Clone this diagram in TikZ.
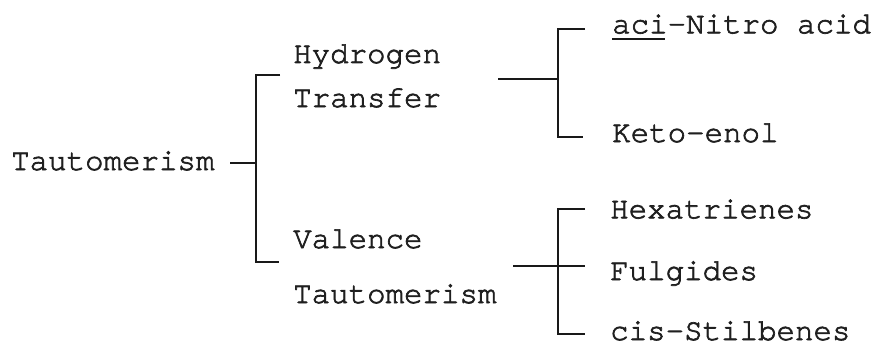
\documentclass[tikz,border=0pt]{standalone}
\usepackage{fontspec}
\font\twf="[texgyrecursor-regular.otf]:embolden=2.2" at 30.8pt
\tikzset{
  lbl/.style={font=\twf, inner sep=0pt, anchor=base west, text=black!88},
  conn/.style={line width=2.3pt, draw=black!90, line join=miter, line cap=butt},
  uline/.style={line width=1.8pt, draw=black!90}
}
\begin{document}
\begin{tikzpicture}[x=1pt,y=-1pt]
\useasboundingbox (0,0) rectangle (877,345);
% texts
\node[lbl] (taut) at (11,170) {Tautomerism};
\node[lbl] (hyd) at (293,63) {Hydrogen};
\node[lbl] (tra) at (293,107) {Transfer};
\node[lbl] (val) at (293,248) {Valence};
\node[lbl] (vtaut) at (293,303) {Tautomerism};
\node[lbl] (aci) at (612,33.3) {aci-Nitro acid};
\node[lbl] (keto) at (612,142) {Keto-enol};
\node[lbl] (hex) at (610,218.3) {Hexatrienes};
\node[lbl] (ful) at (610,280) {Fulgides};
\node[lbl] (cis) at (610,340) {cis-Stilbenes};
% underline of "aci"
\coordinate (u1) at (612,38.8);
\coordinate (u2) at (665,38.8);
\draw[uline] (u1) -- (u2);
% bracket coordinates
\coordinate (d0) at (230,163);
\coordinate (d1) at (256,163);
\coordinate (lt1) at (280,75);
\coordinate (lt0) at (256,75);
\coordinate (lb0) at (256,262);
\coordinate (lb1) at (279,262);
\coordinate (h0) at (498,79);
\coordinate (h1) at (558,79);
\coordinate (ht1) at (585,29);
\coordinate (ht0) at (558,29);
\coordinate (hb0) at (558,137);
\coordinate (hb1) at (583,137);
\coordinate (v0) at (513,266);
\coordinate (v1) at (585,266);
\coordinate (vt1) at (585,209);
\coordinate (vt0) at (558,209);
\coordinate (vb0) at (558,334);
\coordinate (vb1) at (585,334);
% connectors
\draw[conn] (d0) -- (d1);
\draw[conn] (lt1) -- (lt0) -- (lb0) -- (lb1);
\draw[conn] (h0) -- (h1);
\draw[conn] (ht1) -- (ht0) -- (hb0) -- (hb1);
\draw[conn] (v0) -- (v1);
\draw[conn] (vt1) -- (vt0) -- (vb0) -- (vb1);
\end{tikzpicture}
\end{document}
